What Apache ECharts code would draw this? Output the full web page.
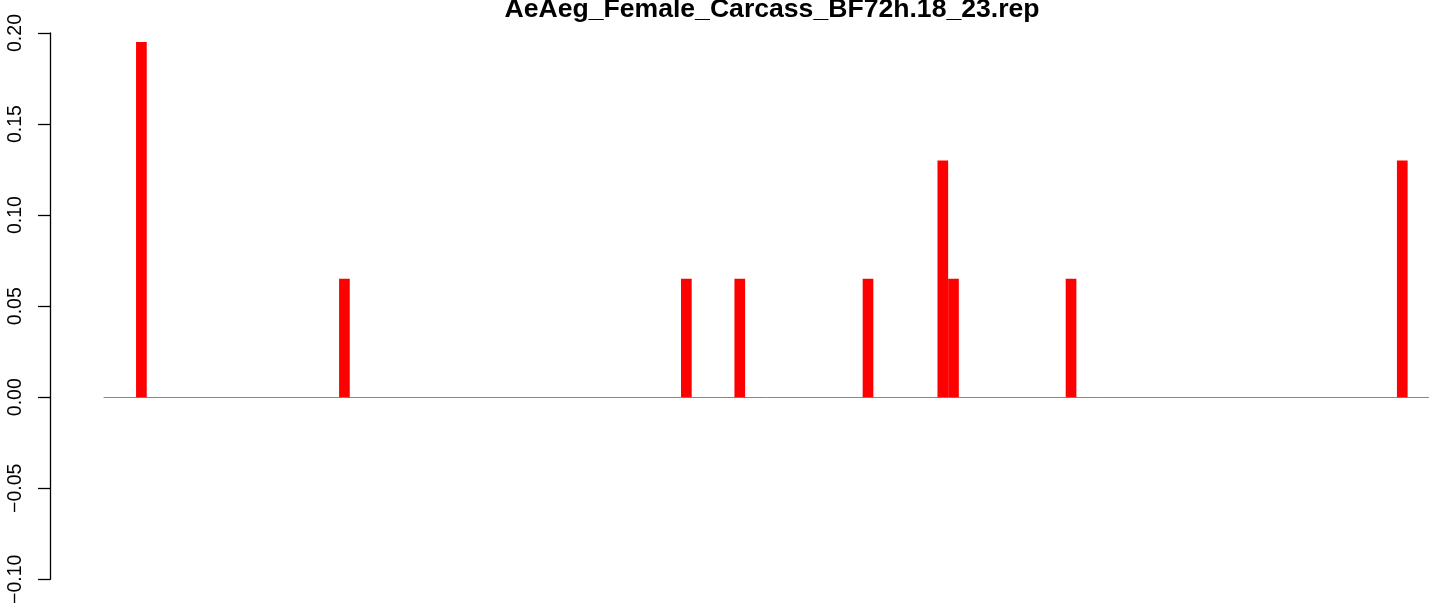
<!DOCTYPE html>
<html>
<head>
<meta charset="utf-8">
<script src="https://cdn.jsdelivr.net/npm/echarts@6/dist/echarts.min.js"></script>
<style>html,body{margin:0;padding:0;background:#fff}#c{width:1429px;height:607px}</style>
</head>
<body>
<div id="c"></div>
<script>
const titleText = "AeAeg_Female_Carcass_BF72h.18_23.rep";
const slotCount = 124;
const barPositions = [3, 22, 54, 59, 71, 78, 79, 90, 121];
const barValues = [0.195, 0.065, 0.065, 0.065, 0.065, 0.13, 0.065, 0.065, 0.13];
const yTicks = [-0.10, -0.05, 0.00, 0.05, 0.10, 0.15, 0.20];

const categories = [];
const values = [];
for (let i = 0; i < slotCount; i++) { categories.push(String(i + 1)); values.push(0); }
barPositions.forEach((p, k) => { values[p] = barValues[k]; });

const chart = echarts.init(document.getElementById('c'));
chart.setOption({
  animation: false,
  backgroundColor: '#ffffff',
  title: {
    text: titleText,
    left: 767, top: -9, textAlign: 'center',
    textStyle: { fontFamily: 'Liberation Sans', fontWeight: 'bold', fontSize: 26.6, color: '#000' }
  },
  grid: { left: 104, width: 1329, top: 33, height: 550.5 },
  xAxis: {
    type: 'category', data: categories,
    axisLine: { show: true, onZero: true, lineStyle: { color: '#888888', width: 1 } },
    axisTick: { show: false }, axisLabel: { show: false }, splitLine: { show: false }
  },
  yAxis: {
    type: 'value', min: -0.1, max: 0.2, interval: 0.05, offset: 54,
    axisLine: { show: true, lineStyle: { color: '#000', width: 1.3 } },
    axisTick: { show: true, length: 12, lineStyle: { color: '#000', width: 1.3 } },
    splitLine: { show: false },
    axisLabel: {
      rotate: 90, margin: 24, color: '#000', fontFamily: 'Liberation Sans', fontSize: 19.5,
      formatter: v => (v < 0 ? '\u2212' : '') + Math.abs(v).toFixed(2)
    }
  },
  series: [{
    type: 'bar', data: values, barWidth: '100%', barCategoryGap: '0%',
    itemStyle: { color: '#ff0000' }
  }]
});
</script>
</body>
</html>
